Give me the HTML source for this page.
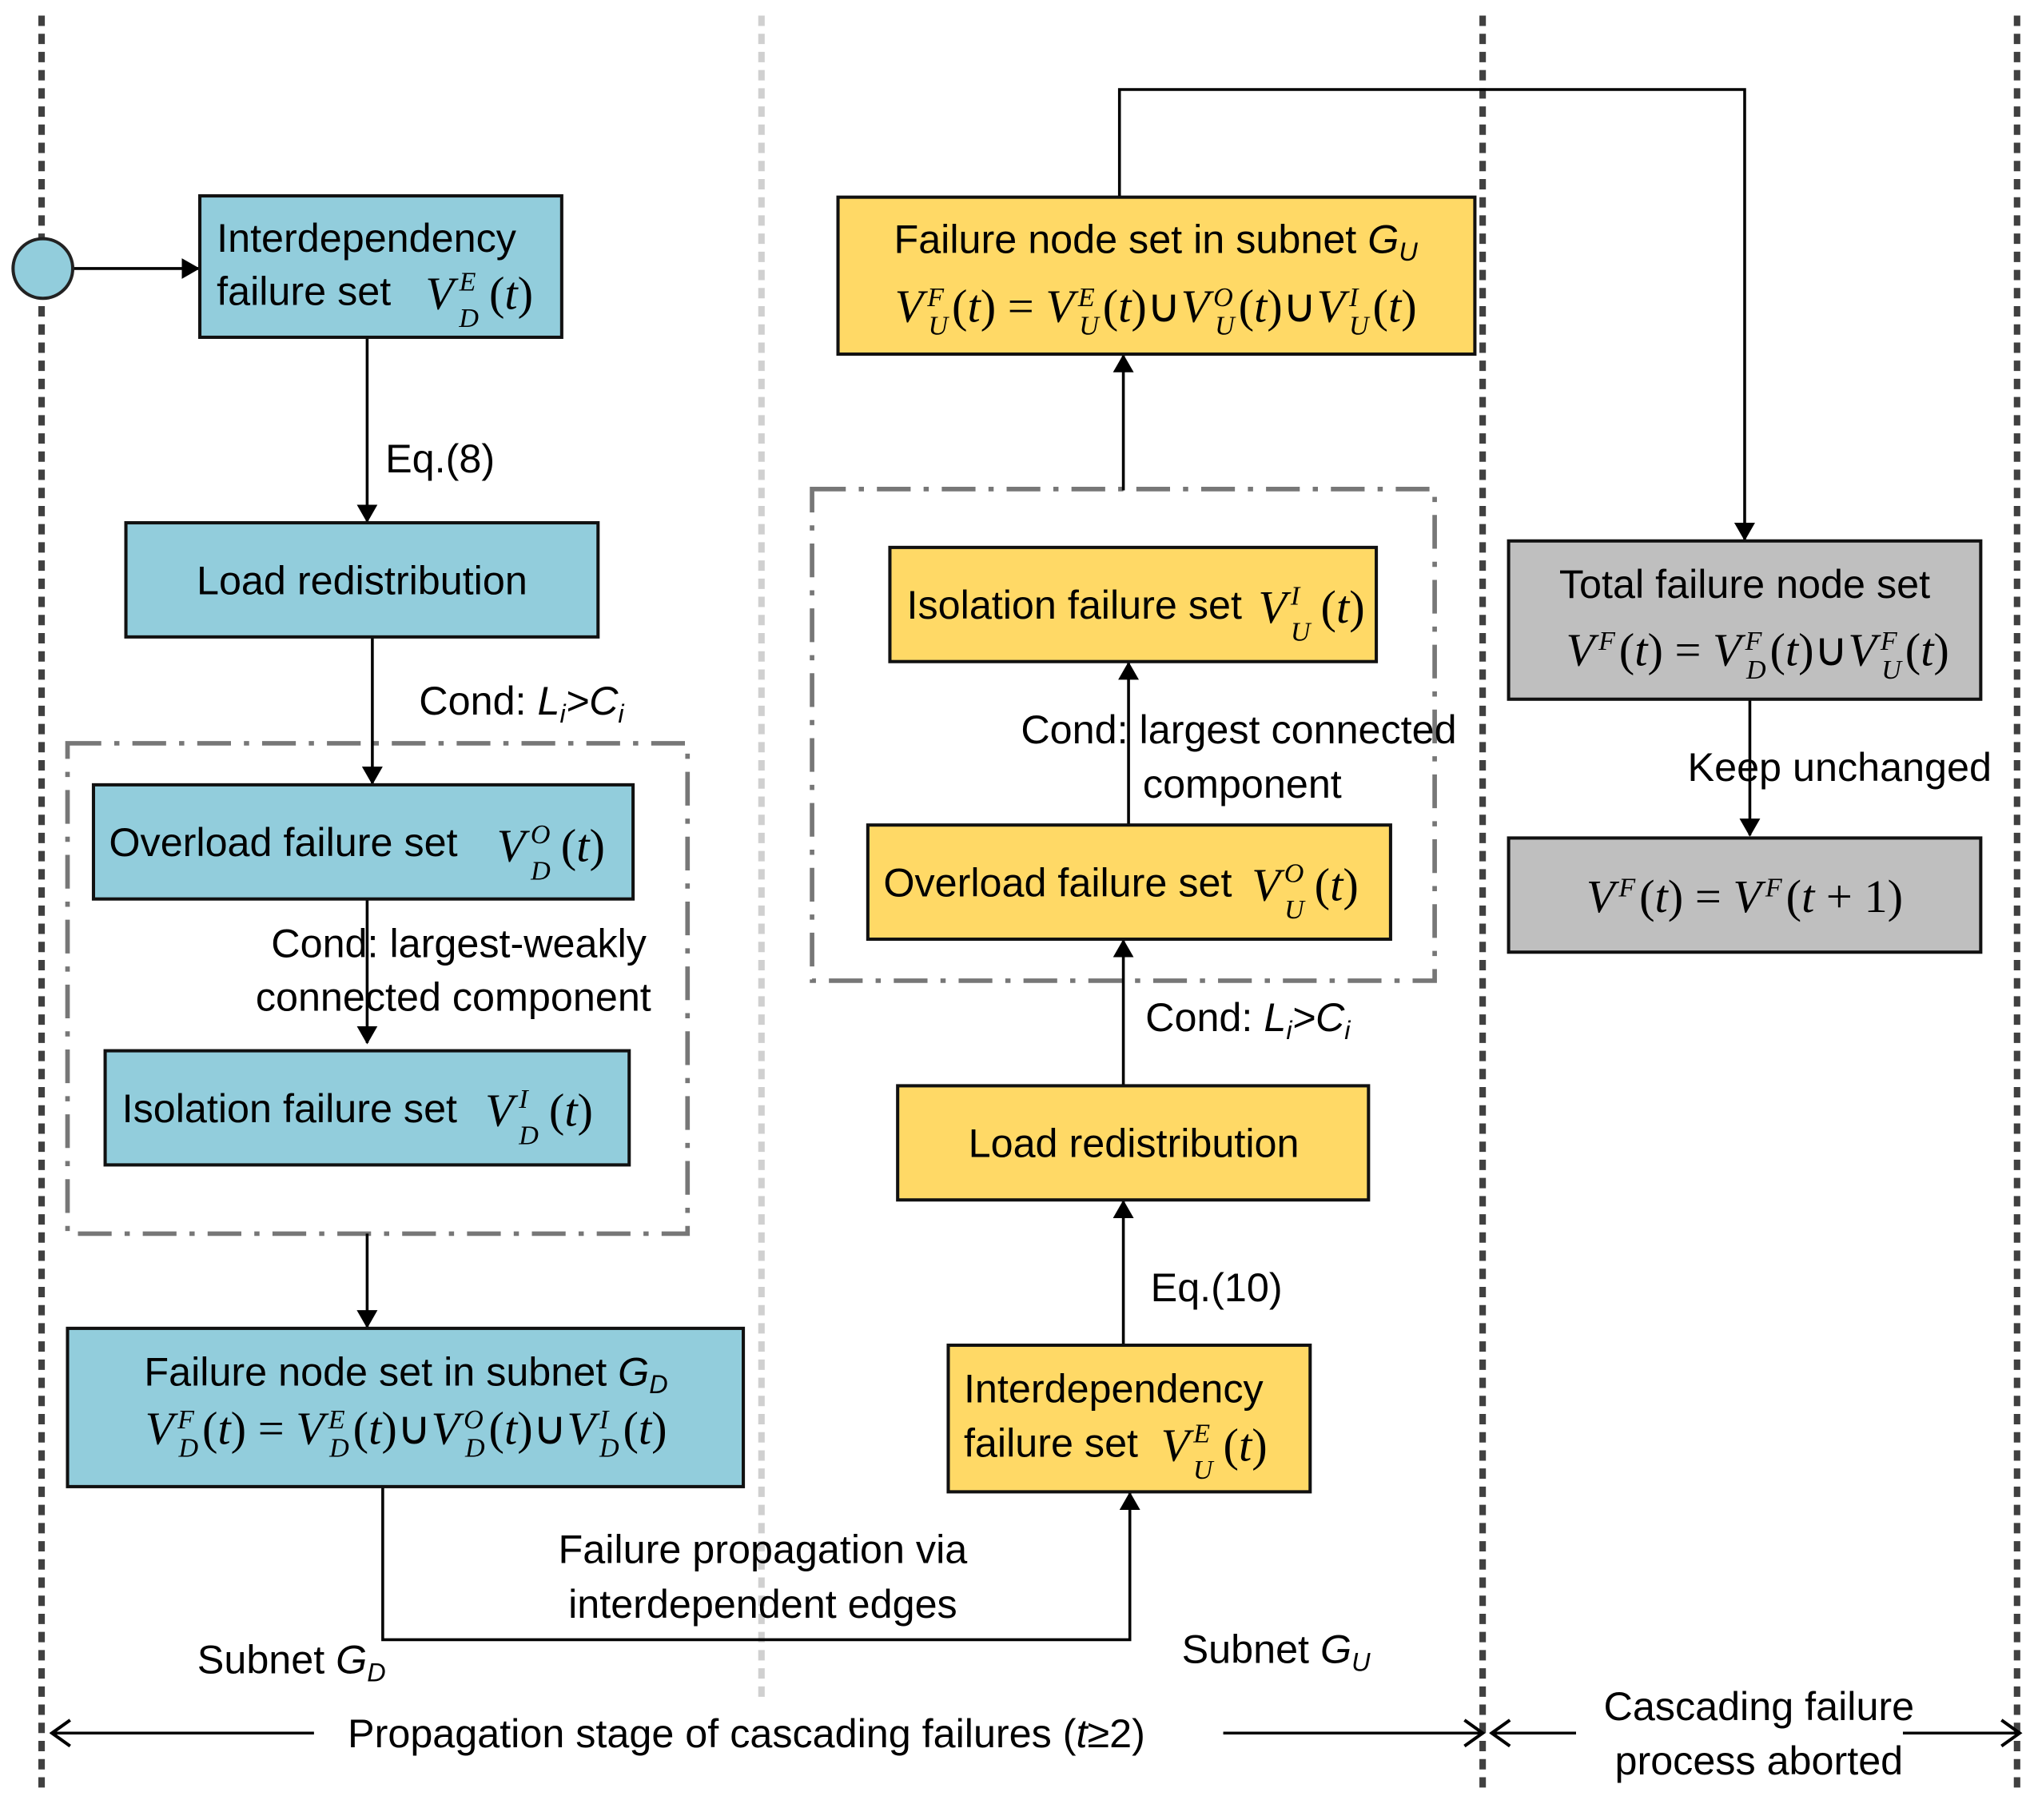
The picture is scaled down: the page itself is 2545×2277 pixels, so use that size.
<!DOCTYPE html>
<html><head><meta charset="utf-8"><style>
html,body{margin:0;padding:0;background:#fff;}
svg{display:block;}
.t{font-family:"Liberation Sans",sans-serif;font-size:31px;fill:#000;}
.m{font-family:"Liberation Serif",serif;font-size:36px;fill:#000;}
.i{font-style:italic;}
.s{font-size:21px;font-style:italic;}
</style></head><body>
<svg width="2545" height="2277" viewBox="0 0 1568 1403" xmlns="http://www.w3.org/2000/svg">
<defs>
<marker id="a" markerWidth="14" markerHeight="16" refX="13" refY="8" orient="auto" markerUnits="userSpaceOnUse" viewBox="0 0 14 16"><path d="M0,0 L14,8 L0,16 z" fill="#000"/></marker>
<marker id="b" markerWidth="18" markerHeight="24" refX="2" refY="12" orient="auto" markerUnits="userSpaceOnUse"><path d="M16,2 L2,12 L16,22" fill="none" stroke="#000" stroke-width="2.5"/></marker>
<marker id="c" markerWidth="18" markerHeight="24" refX="16" refY="12" orient="auto" markerUnits="userSpaceOnUse"><path d="M2,2 L16,12 L2,22" fill="none" stroke="#000" stroke-width="2.5"/></marker>
</defs>
<g stroke-width="5" stroke-dasharray="8 6">
<line x1="32" y1="12" x2="32" y2="1380" stroke="#404040"/>
<line x1="587" y1="12" x2="587" y2="1310" stroke="#d0d0d0"/>
<line x1="1143" y1="12" x2="1143" y2="1380" stroke="#404040"/>
<line x1="1555" y1="12" x2="1555" y2="1380" stroke="#404040"/>
</g>
<g fill="none" stroke="#777" stroke-width="3.5" stroke-dasharray="26 10 4 10">
<rect x="52" y="573" width="478" height="378"/>
<rect x="626" y="377" width="480" height="379"/>
</g>
<g stroke="#000" stroke-width="2.2" fill="none">
<line x1="57" y1="207" x2="153" y2="207" marker-end="url(#a)"/>
<line x1="283" y1="260" x2="283" y2="402" marker-end="url(#a)"/>
<line x1="287" y1="491" x2="287" y2="604" marker-end="url(#a)"/>
<line x1="283" y1="693" x2="283" y2="804" marker-end="url(#a)"/>
<line x1="283" y1="951" x2="283" y2="1023" marker-end="url(#a)"/>
<polyline points="295,1146 295,1264 871,1264 871,1151" marker-end="url(#a)"/>
<line x1="866" y1="378" x2="866" y2="274" marker-end="url(#a)"/>
<line x1="870" y1="636" x2="870" y2="511" marker-end="url(#a)"/>
<line x1="866" y1="836" x2="866" y2="725" marker-end="url(#a)"/>
<line x1="866" y1="1037" x2="866" y2="926" marker-end="url(#a)"/>
<polyline points="863,152 863,69 1345,69 1345,416" marker-end="url(#a)"/>
<line x1="1349" y1="539" x2="1349" y2="644" marker-end="url(#a)"/>
<line x1="40" y1="1336" x2="242" y2="1336" marker-start="url(#b)"/>
<line x1="943" y1="1336" x2="1143" y2="1336" marker-end="url(#c)"/>
<line x1="1150" y1="1336" x2="1215" y2="1336" marker-start="url(#b)"/>
<line x1="1467" y1="1336" x2="1557" y2="1336" marker-end="url(#c)"/>
</g>
<circle cx="33" cy="207" r="23" fill="#92CDDC" stroke="#222" stroke-width="2.5"/>
<g stroke="#111" stroke-width="2.5">
<rect x="154" y="151" width="279" height="109" fill="#92CDDC"/>
<rect x="97" y="403" width="364" height="88" fill="#92CDDC"/>
<rect x="72" y="605" width="416" height="88" fill="#92CDDC"/>
<rect x="81" y="810" width="404" height="88" fill="#92CDDC"/>
<rect x="52" y="1024" width="521" height="122" fill="#92CDDC"/>
<rect x="646" y="152" width="491" height="121" fill="#FFD966"/>
<rect x="686" y="422" width="375" height="88" fill="#FFD966"/>
<rect x="669" y="636" width="403" height="88" fill="#FFD966"/>
<rect x="692" y="837" width="363" height="88" fill="#FFD966"/>
<rect x="731" y="1037" width="279" height="113" fill="#FFD966"/>
<rect x="1163" y="417" width="364" height="122" fill="#BFBFBF"/>
<rect x="1163" y="646" width="364" height="88" fill="#BFBFBF"/>
</g>
<text class="t" x="167" y="194">Interdependency</text>
<text class="t" x="167" y="235">failure set</text>
<text class="m" x="328" y="238"><tspan class="i">V</tspan><tspan class="s" dx="4" dy="-14">E</tspan><tspan class="s" dx="-13" dy="28">D</tspan><tspan dy="-14" dx="8">(</tspan><tspan class="i">t</tspan>)</text>
<text class="t" x="297" y="364">Eq.(8)</text>
<text class="t" x="279" y="458" text-anchor="middle">Load redistribution</text>
<text class="t" x="323" y="551">Cond: <tspan font-style="italic">L<tspan font-size="20" dy="6">i</tspan><tspan dy="-6">&gt;C</tspan><tspan font-size="20" dy="6">i</tspan></tspan></text>
<text class="t" x="84" y="660">Overload failure set</text>
<text class="m" x="383" y="664"><tspan class="i">V</tspan><tspan class="s" dx="4" dy="-14">O</tspan><tspan class="s" dx="-15" dy="28">D</tspan><tspan dy="-14" dx="8">(</tspan><tspan class="i">t</tspan>)</text>
<text class="t" x="209" y="738">Cond: largest-weakly</text>
<text class="t" x="197" y="779">connected component</text>
<text class="t" x="94" y="865">Isolation failure set</text>
<text class="m" x="374" y="868"><tspan class="i">V</tspan><tspan class="s" dx="4" dy="-14">I</tspan><tspan class="s" dx="-7" dy="28">D</tspan><tspan dy="-14" dx="8">(</tspan><tspan class="i">t</tspan>)</text>
<text class="t" x="313" y="1068" text-anchor="middle">Failure node set in subnet <tspan font-style="italic">G<tspan font-size="20" dy="6">D</tspan></tspan></text>
<text class="m" x="313" y="1113" text-anchor="middle"><tspan class="i">V</tspan><tspan class="s" dx="3" dy="-12">F</tspan><tspan class="s" dx="-12" dy="22">D</tspan><tspan dy="-10" dx="3">(</tspan><tspan class="i">t</tspan>) = <tspan class="i">V</tspan><tspan class="s" dx="3" dy="-12">E</tspan><tspan class="s" dx="-12" dy="22">D</tspan><tspan dy="-10" dx="3">(</tspan><tspan class="i">t</tspan>)∪<tspan class="i">V</tspan><tspan class="s" dx="3" dy="-12">O</tspan><tspan class="s" dx="-14" dy="22">D</tspan><tspan dy="-10" dx="3">(</tspan><tspan class="i">t</tspan>)∪<tspan class="i">V</tspan><tspan class="s" dx="3" dy="-12">I</tspan><tspan class="s" dx="-7" dy="22">D</tspan><tspan dy="-10" dx="3">(</tspan><tspan class="i">t</tspan>)</text>
<text class="t" x="588" y="1205" text-anchor="middle">Failure propagation via</text>
<text class="t" x="588" y="1247" text-anchor="middle">interdependent edges</text>
<text class="t" x="152" y="1290">Subnet <tspan font-style="italic">G<tspan font-size="20" dy="6">D</tspan></tspan></text>
<text class="t" x="911" y="1282">Subnet <tspan font-style="italic">G<tspan font-size="20" dy="6">U</tspan></tspan></text>
<text class="t" x="268" y="1347">Propagation stage of cascading failures  (<tspan font-style="italic">t</tspan>≥2)</text>
<text class="t" x="1356" y="1326" text-anchor="middle">Cascading failure</text>
<text class="t" x="1356" y="1368" text-anchor="middle">process aborted</text>
<text class="t" x="891" y="195" text-anchor="middle">Failure node set in subnet <tspan font-style="italic">G<tspan font-size="20" dy="6">U</tspan></tspan></text>
<text class="m" x="891" y="248" text-anchor="middle"><tspan class="i">V</tspan><tspan class="s" dx="3" dy="-12">F</tspan><tspan class="s" dx="-12" dy="22">U</tspan><tspan dy="-10" dx="3">(</tspan><tspan class="i">t</tspan>) = <tspan class="i">V</tspan><tspan class="s" dx="3" dy="-12">E</tspan><tspan class="s" dx="-12" dy="22">U</tspan><tspan dy="-10" dx="3">(</tspan><tspan class="i">t</tspan>)∪<tspan class="i">V</tspan><tspan class="s" dx="3" dy="-12">O</tspan><tspan class="s" dx="-14" dy="22">U</tspan><tspan dy="-10" dx="3">(</tspan><tspan class="i">t</tspan>)∪<tspan class="i">V</tspan><tspan class="s" dx="3" dy="-12">I</tspan><tspan class="s" dx="-7" dy="22">U</tspan><tspan dy="-10" dx="3">(</tspan><tspan class="i">t</tspan>)</text>
<text class="t" x="699" y="477">Isolation failure set</text>
<text class="m" x="970" y="480"><tspan class="i">V</tspan><tspan class="s" dx="3" dy="-14">I</tspan><tspan class="s" dx="-7" dy="28">U</tspan><tspan dy="-14" dx="8">(</tspan><tspan class="i">t</tspan>)</text>
<text class="t" x="787" y="573">Cond: largest  connected</text>
<text class="t" x="881" y="615">component</text>
<text class="t" x="681" y="691">Overload failure set</text>
<text class="m" x="965" y="694"><tspan class="i">V</tspan><tspan class="s" dx="3" dy="-14">O</tspan><tspan class="s" dx="-15" dy="28">U</tspan><tspan dy="-14" dx="8">(</tspan><tspan class="i">t</tspan>)</text>
<text class="t" x="883" y="795">Cond: <tspan font-style="italic">L<tspan font-size="20" dy="6">i</tspan><tspan dy="-6">&gt;C</tspan><tspan font-size="20" dy="6">i</tspan></tspan></text>
<text class="t" x="874" y="892" text-anchor="middle">Load redistribution</text>
<text class="t" x="887" y="1003">Eq.(10)</text>
<text class="t" x="743" y="1081">Interdependency</text>
<text class="t" x="743" y="1123">failure set</text>
<text class="m" x="895" y="1126"><tspan class="i">V</tspan><tspan class="s" dx="3" dy="-14">E</tspan><tspan class="s" dx="-13" dy="28">U</tspan><tspan dy="-14" dx="8">(</tspan><tspan class="i">t</tspan>)</text>
<text class="t" x="1345" y="461" text-anchor="middle">Total failure node set</text>
<text class="m" x="1355" y="513" text-anchor="middle"><tspan class="i">V</tspan><tspan class="s" dx="3" dy="-12">F</tspan><tspan dy="12" dx="3">(</tspan><tspan class="i">t</tspan>) = <tspan class="i">V</tspan><tspan class="s" dx="3" dy="-12">F</tspan><tspan class="s" dx="-12" dy="22">D</tspan><tspan dy="-10" dx="3">(</tspan><tspan class="i">t</tspan>)∪<tspan class="i">V</tspan><tspan class="s" dx="3" dy="-12">F</tspan><tspan class="s" dx="-12" dy="22">U</tspan><tspan dy="-10" dx="3">(</tspan><tspan class="i">t</tspan>)</text>
<text class="t" x="1301" y="602">Keep unchanged</text>
<text class="m" x="1345" y="703" text-anchor="middle"><tspan class="i">V</tspan><tspan class="s" dx="3" dy="-12">F</tspan><tspan dy="12" dx="3">(</tspan><tspan class="i">t</tspan>) = <tspan class="i">V</tspan><tspan class="s" dx="3" dy="-12">F</tspan><tspan dy="12" dx="3">(</tspan><tspan class="i">t</tspan> + 1)</text>
</svg>
</body></html>
